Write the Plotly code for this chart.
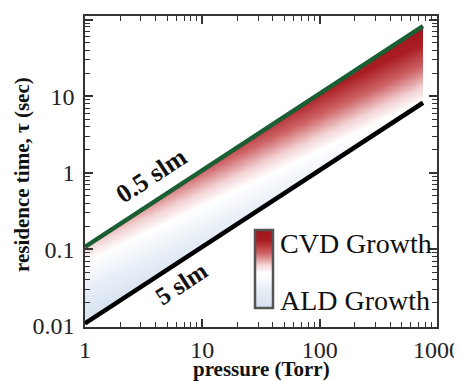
import numpy as np
import plotly.graph_objects as go

# ---- data ----
pressure = [1, 760]                 # Torr
tau_05slm = [0.108, 82.0]           # residence time at 0.5 slm (sec)
tau_5slm = [0.0108, 8.2]            # residence time at 5 slm (sec)
x_tickvals = [1, 10, 100, 1000]
x_ticktext = ["1", "10", "100", "1000"]
y_tickvals = [0.01, 0.1, 1, 10, 100]
y_ticktext = ["0.01", "0.1", "1", "10", "100"]
line_labels = ["0.5 slm", "5 slm"]
bar_labels = ["CVD Growth", "ALD Growth"]
x_title = "pressure (Torr)"
y_title = "residence time, τ (sec)"

FONT = "Liberation Serif, Times New Roman, serif"
XR = [0, 3]
YR = [-2.013, 2.046]

colorscale = [
    [0.0, "rgb(212,225,240)"],
    [0.25, "rgb(233,239,247)"],
    [0.45, "rgb(255,255,255)"],
    [0.55, "rgb(244,212,213)"],
    [0.70, "rgb(206,100,103)"],
    [0.86, "rgb(170,30,35)"],
    [1.0, "rgb(160,22,28)"],
]

# ---- gradient fill between the two lines (log space grid) ----
lu0, lu1 = np.log10(pressure[0]), np.log10(pressure[1])
nu, nv = 360, 360
u_edges = np.linspace(lu0, lu1, nu + 1)
v_edges = np.linspace(-2.0, 2.0, nv + 1)
uc = 0.5 * (u_edges[:-1] + u_edges[1:])
vc = 0.5 * (v_edges[:-1] + v_edges[1:])
U, V = np.meshgrid(uc, vc)
upper = np.interp(U, np.log10(pressure), np.log10(tau_05slm))
lower = np.interp(U, np.log10(pressure), np.log10(tau_5slm))
Z = -0.40 * U + 0.55 * V + 1.09
Z = np.clip(Z, 0, 1)
Z = np.where((V <= upper) & (V >= lower), Z, np.nan)

# plot-area position in the final page (page adds an 8px body margin)
PX0, PX1, PY0, PY1 = 85, 437, 16, 327
def px(xp):
    return (xp - PX0) / (PX1 - PX0)
def py(yp):
    return 1 - (yp - PY0) / (PY1 - PY0)

fig = go.Figure()
fig.add_trace(go.Heatmap(
    x=10 ** u_edges, y=10 ** v_edges, z=Z,
    colorscale=colorscale, zmin=0, zmax=1, hoverinfo="skip",
    showscale=True,
    colorbar=dict(
        x=px(255), xanchor="left", xpad=0, ypad=0,
        y=py(269), yanchor="middle",
        lenmode="pixels", len=78, thicknessmode="pixels", thickness=18,
        outlinecolor="#555555", outlinewidth=2.5,
        showticklabels=False, ticks="",
    ),
))
fig.add_trace(go.Scatter(x=pressure, y=tau_05slm, mode="lines",
                         line=dict(color="#1b5e33", width=4.5), hoverinfo="skip"))
fig.add_trace(go.Scatter(x=pressure, y=tau_5slm, mode="lines",
                         line=dict(color="#000000", width=4.5), hoverinfo="skip"))

axis_common = dict(
    type="log", showline=True, linecolor="#333333", linewidth=1.5, mirror="allticks",
    ticks="inside", ticklen=8, tickwidth=1.5, tickcolor="#333333",
    minor=dict(ticks="inside", ticklen=5, tickwidth=1.3, tickcolor="#333333", dtick="D1"),
    showgrid=False, zeroline=False, layer="above traces",
    tickfont=dict(family=FONT, size=24, color="#222222"),
)
fig.update_layout(
    xaxis=dict(**axis_common, range=XR, tickvals=x_tickvals, ticktext=x_ticktext),
    yaxis=dict(**axis_common, range=YR, tickvals=y_tickvals, ticktext=y_ticktext,
               ticklabelstandoff=4),
)

# axis titles
fig.add_annotation(x=px(261), y=py(369), xref="paper", yref="paper",
                   text="<b>" + x_title + "</b>", showarrow=False,
                   xanchor="center", yanchor="middle",
                   font=dict(family=FONT, size=21, color="#111111"))
fig.add_annotation(x=px(22), y=py(175), xref="paper", yref="paper",
                   text="<b>" + y_title + "</b>", showarrow=False, textangle=-90,
                   xanchor="center", yanchor="middle",
                   font=dict(family=FONT, size=21, color="#111111"))

ang = -33.2
fig.add_annotation(x=0.565, y=-0.03, xref="x", yref="y", text="<b>" + line_labels[0] + "</b>",
                   showarrow=False, textangle=ang,
                   font=dict(family=FONT, size=26, color="#111111"))
fig.add_annotation(x=0.82, y=-1.44, xref="x", yref="y", text="<b>" + line_labels[1] + "</b>",
                   showarrow=False, textangle=ang,
                   font=dict(family=FONT, size=25, color="#111111"))
fig.add_annotation(x=px(278), y=py(243), xref="paper", yref="paper",
                   xanchor="left", yanchor="middle", text=bar_labels[0], showarrow=False,
                   font=dict(family=FONT, size=28, color="#111111"))
fig.add_annotation(x=px(278), y=py(300), xref="paper", yref="paper",
                   xanchor="left", yanchor="middle", text=bar_labels[1], showarrow=False,
                   font=dict(family=FONT, size=28, color="#111111"))

# figure is 8px smaller than the window to allow for the page's body margin
fig.update_layout(
    width=454, height=373,
    margin=dict(l=PX0 - 8, r=454 - (PX1 - 8), t=PY0 - 8, b=373 - (PY1 - 8), autoexpand=False),
    paper_bgcolor="white", plot_bgcolor="white",
    showlegend=False,
)
fig.write_html("out.html")
